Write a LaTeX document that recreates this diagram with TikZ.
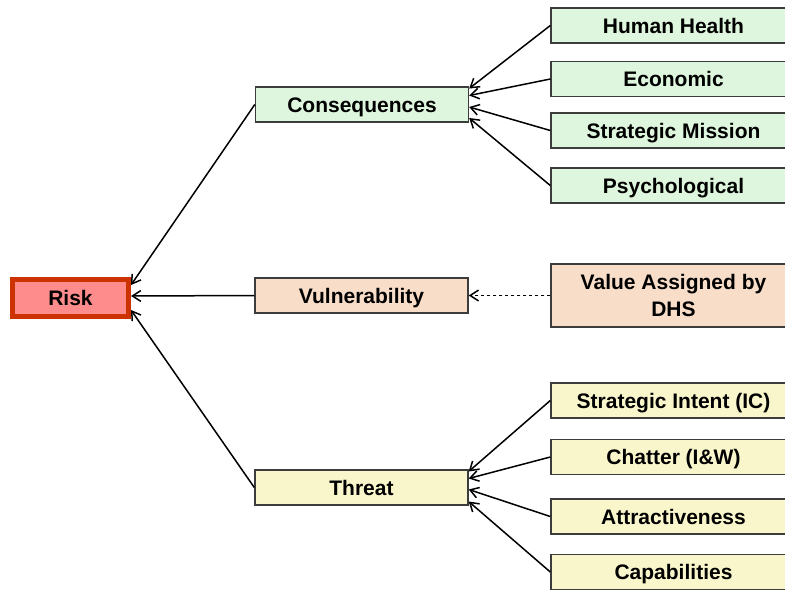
\documentclass[tikz,border=0pt]{standalone}
\usepackage{fontspec}
\setmainfont{Liberation Sans}
\usetikzlibrary{arrows.meta,calc}
\definecolor{gfill}{RGB}{221,246,221}
\definecolor{pfill}{RGB}{248,221,201}
\definecolor{yfill}{RGB}{250,246,203}
\definecolor{rfill}{RGB}{255,140,140}
\definecolor{rdraw}{RGB}{204,51,0}
\definecolor{bdraw}{RGB}{60,60,60}
\tikzset{
  box/.style={draw=bdraw, line width=1.4pt, inner sep=0pt, align=center,
    font=\fontsize{21}{27}\selectfont\bfseries, text=black,
    text height=15pt, text depth=0pt},
  midbox/.style={box, minimum width=213pt, minimum height=35pt},
  leafbox/.style={box, minimum width=245pt, minimum height=35pt},
  conn/.style={draw=black, line width=1.5pt, -{Straight Barb[angle=65:10pt]}},
  dconn/.style={conn, dash pattern=on 3.5pt off 2.5pt}
}
\begin{document}
\begin{tikzpicture}[x=1pt,y=-1pt]
\useasboundingbox (0,0) rectangle (785,590);
\node[box, fill=rfill, draw=rdraw, line width=5pt, minimum width=116pt, minimum height=37pt] (risk) at (70.5,298) {Risk};
\node[midbox, fill=gfill] (cons) at (362,104.5) {Consequences};
\node[midbox, fill=pfill] (vuln) at (361.5,295.5) {Vulnerability};
\node[midbox, fill=yfill] (threat) at (361.5,487.5) {Threat};
\node[leafbox, fill=gfill] (hh) at (673.5,25.5) {Human Health};
\node[leafbox, fill=gfill] (eco) at (673.5,79) {Economic};
\node[leafbox, fill=gfill] (sm) at (673.5,130.5) {Strategic Mission};
\node[leafbox, fill=gfill] (psy) at (673.5,185.5) {Psychological};
\node[leafbox, fill=pfill, minimum height=63pt, text height=, text depth=] (val) at (673.5,295.5) {Value Assigned by\\DHS};
\node[leafbox, fill=yfill] (si) at (673.5,400.5) {Strategic Intent (IC)};
\node[leafbox, fill=yfill] (chat) at (673.5,457) {Chatter (I\&W)};
\node[leafbox, fill=yfill] (attr) at (673.5,516.5) {Attractiveness};
\node[leafbox, fill=yfill] (cap) at (673.5,572) {Capabilities};
\draw[conn] (hh.west) -- ($(cons.east)+(0,-16)$);
\draw[conn] (eco.west) -- ($(cons.east)+(0,-9)$);
\draw[conn] (sm.west) -- ($(cons.east)+(0,2.5)$);
\draw[conn] (psy.west) -- ($(cons.east)+(0,13.5)$);
\draw[conn] (si.west) -- ($(threat.east)+(0,-16)$);
\draw[conn] (chat.west) -- ($(threat.east)+(0,-9)$);
\draw[conn] (attr.west) -- ($(threat.east)+(0,2)$);
\draw[conn] (cap.west) -- ($(threat.east)+(0,14)$);
\draw[dconn] (val.west) -- (vuln.east);
\draw[conn] (cons.west) -- ($(risk.east)+(0,-13)$);
\draw[conn] (vuln.west) -- ($(risk.east)+(0,-2)$);
\draw[conn] (threat.west) -- ($(risk.east)+(0,12)$);
\end{tikzpicture}
\end{document}
